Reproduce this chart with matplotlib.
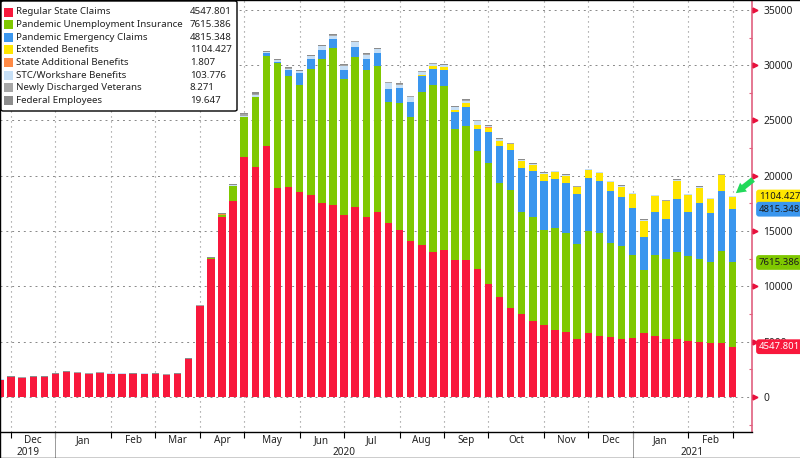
import numpy as np
import matplotlib; matplotlib.use("Agg"); import matplotlib.pyplot as plt
from matplotlib.lines import Line2D
from matplotlib.patches import FancyBboxPatch, Rectangle

plt.rcParams["font.family"] = ["Noto Sans", "DejaVu Sans"]

# weekly claims (thousands), Nov 2019 .. Feb 2021
regular = [1565,1800,1715,1800,1775,2050,2250,2170,2080,2170,2100,2100,2050,2100,2050,1985,2050,3400,
           8250,12500,16240,17750,21700,20830,22720,18860,19020,18540,18290,17570,17360,16430,17210,16275,16700,15730,
           15100,14130,13770,13080,13290,12390,12390,11600,10200,9000,8060,7480,6850,6490,6080,5920,5220,5770,
           5500,5410,5220,5340,5770,5500,5220,5210,5060,5000,4880,4880,4547.801]
pandemic_unemp = [0]*18 + [0,30,260,1330,3590,6320,8110,11310,10000,9640,11340,13020,14170,12290,13500,13295,13230,10940,
                  11510,11160,13810,15130,14830,11810,12110,10670,10960,10380,10660,9250,9400,8610,9230,8880,8590,9270,
                  9300,8490,8430,7500,5710,7310,7230,7930,7690,7500,7300,8350,7615.386]
pandemic_emerg = [0]*24 + [240,150,550,1080,900,780,840,850,970,1020,1140,1180,
                  1300,1350,1440,1420,1450,1600,1750,1990,2770,3310,3610,4010,4210,4430,4430,4520,4520,4760,
                  4730,4750,4460,4220,3010,3890,3620,4760,4000,5040,4430,5420,4815.348]
extended = [0]*37 + [60,120,270,250,150,330,360,430,480,520,610,530,650,590,680,620,710,
            710,780,900,1280,1450,1460,1610,1650,1500,1380,1280,1380,1104.427]
state_add = [0]*19 + [10]*47 + [1.807]
stc = [30]*18 + [20,20,40,60,150,120,90,120,110,180,270,340,300,390,420,360,340,540,
       330,420,240,210,170,240,210,310,130,120,50,50,50,50,50,50,50,50,
       50,50,50,50,50,50,50,50,50,50,50,50,103.776]
veterans = [20]*18 + [30,30,30,30,100,140] + [60]*20 + [40]*2 + [30]*20 + [8.271]
federal = [50]*18 + [50,50,50,50,110,140] + [60]*20 + [50]*2 + [50]*20 + [19.647]

names = ["Regular State Claims","Pandemic Unemployment Insurance","Pandemic Emergency Claims","Extended Benefits",
         "State Additional Benefits","STC/Workshare Benefits","Newly Discharged Veterans","Federal Employees"]
colors = ["#F8183C","#7FC800","#3A96EE","#FFE600","#FF8A45","#C6DFF6","#A6A6A6","#8C8C8C"]
series = [regular,pandemic_unemp,pandemic_emerg,extended,state_add,stc,veterans,federal]

months = ["Dec","Jan","Feb","Mar","Apr","May","Jun","Jul","Aug","Sep","Oct","Nov","Dec","Jan","Feb"]
month_ticks = [1,5,10,14,18,22,27,31,36,40,44,49,53,57,62,66]
years = ["2019","2020","2021"]
year_edges = [0,5,57,67.75]
yticks = list(range(0,35001,5000))

fig = plt.figure(figsize=(8,4.58),dpi=100)
ax = fig.add_axes([0,26/458,752/800,432/458])
ax.set_xlim(0,67.75); ax.set_ylim(-3165,35895)

x = np.arange(len(regular)); bottom = np.zeros(len(regular))
for s,c,n in zip(series,colors,names):
    ax.bar(x,s,bottom=bottom,width=0.68,color=c,label=n,zorder=3,linewidth=0)
    bottom += np.array(s)

ax.grid(axis="y",color="#888888",ls=(0,(2,4)),lw=0.7,zorder=1)
ax.grid(axis="x",color="#888888",ls=(0,(1,3.5)),lw=0.8,zorder=1)
ax.set_axisbelow(True)
for sp in ["top","left"]: ax.spines[sp].set_visible(False)
ax.spines["right"].set_color("#E0607F"); ax.spines["right"].set_linewidth(1.2)
ax.spines["bottom"].set_color("black"); ax.spines["bottom"].set_linewidth(1)

ax.set_xticks(month_ticks); ax.set_xticklabels([])
mids = [(a+b)/2 for a,b in zip(month_ticks[:-1],month_ticks[1:])]
ax.set_xticks(mids,minor=True); ax.set_xticklabels(months,minor=True,fontsize=7.2,color="#222222")
ax.tick_params(axis="x",which="major",length=4,width=0.8,color="black")
ax.tick_params(axis="x",which="minor",length=0,pad=2)
for i,y in enumerate(years):
    ax.text((year_edges[i]+year_edges[i+1])/2,-20.5/432,y,transform=ax.get_xaxis_transform(),ha="center",va="center",
            fontsize=7.2,color="#222222")
for e in year_edges[1:3]:
    ax.plot([e,e],[-1/432,-26/432],transform=ax.get_xaxis_transform(),color="#999999",lw=0.7,clip_on=False)

ax.yaxis.tick_right()
ax.set_yticks(yticks); ax.set_yticklabels([str(v) for v in yticks],fontsize=7.4,color="#222222")
ax.set_yticks(np.arange(-2500,35001,5000),minor=True)
ax.tick_params(axis="y",which="major",length=3,width=0.8,color="#E0284F",pad=5)
ax.tick_params(axis="y",which="minor",length=2,width=0.8,color="#E0607F",direction="in")
ax.plot([1.004]*len(yticks),yticks,">",ms=3.5,color="#E8103C",transform=ax.get_yaxis_transform(),clip_on=False,zorder=5)

# value tags right of the axis
tops = np.cumsum([s[-1] for s in series])
for k,tc in [(3,"#1a1a1a"),(2,"#1a1a1a"),(1,"#1a1a1a"),(0,"white")]:
    ax.text(759/752,tops[k],"%.3f"%series[k][-1],transform=ax.get_yaxis_transform(),ha="left",va="center",
            fontsize=6.9,color=tc,clip_on=False,zorder=7,
            bbox=dict(boxstyle="round,pad=0.3",fc=colors[k],ec="none"))

# green arrow onto the last bar
ax.annotate("",xy=(66.1,bottom[-1]+60),xytext=(68.05,bottom[-1]+1600),zorder=8,annotation_clip=False,
            arrowprops=dict(arrowstyle="simple,head_width=0.8,head_length=0.7,tail_width=0.4",color="#22D95A",lw=0))

# legend box, pixel coordinates from the top left
W,H = 800.,458.
fig.add_artist(FancyBboxPatch((1/W,(H-111)/H),236/W,110/H,boxstyle="round,pad=0,rounding_size=0.003",
                              transform=fig.transFigure,fc="white",ec="black",lw=1,zorder=10))
for i,(n,c,s) in enumerate(zip(names,colors,series)):
    yp = 12+12.6*i
    fig.add_artist(Rectangle((4/W,(H-yp-4.5)/H),9/W,9/H,transform=fig.transFigure,fc=c,ec="none",zorder=11))
    fig.text(16.5/W,(H-yp)/H,n,fontsize=7.0,va="center",ha="left",color="#222222",zorder=11)
    fig.text(190/W,(H-yp)/H,"%.3f"%s[-1],fontsize=7.0,va="center",ha="left",color="#222222",zorder=11)

# picture border
fig.add_artist(Line2D([0,1],[0.9995,0.9995],color="black",lw=1))
fig.add_artist(Line2D([0,1],[0.001,0.001],color="black",lw=1))
fig.add_artist(Line2D([0.0005,0.0005],[0,1],color="black",lw=1))

fig.savefig("out.png",dpi=100)
